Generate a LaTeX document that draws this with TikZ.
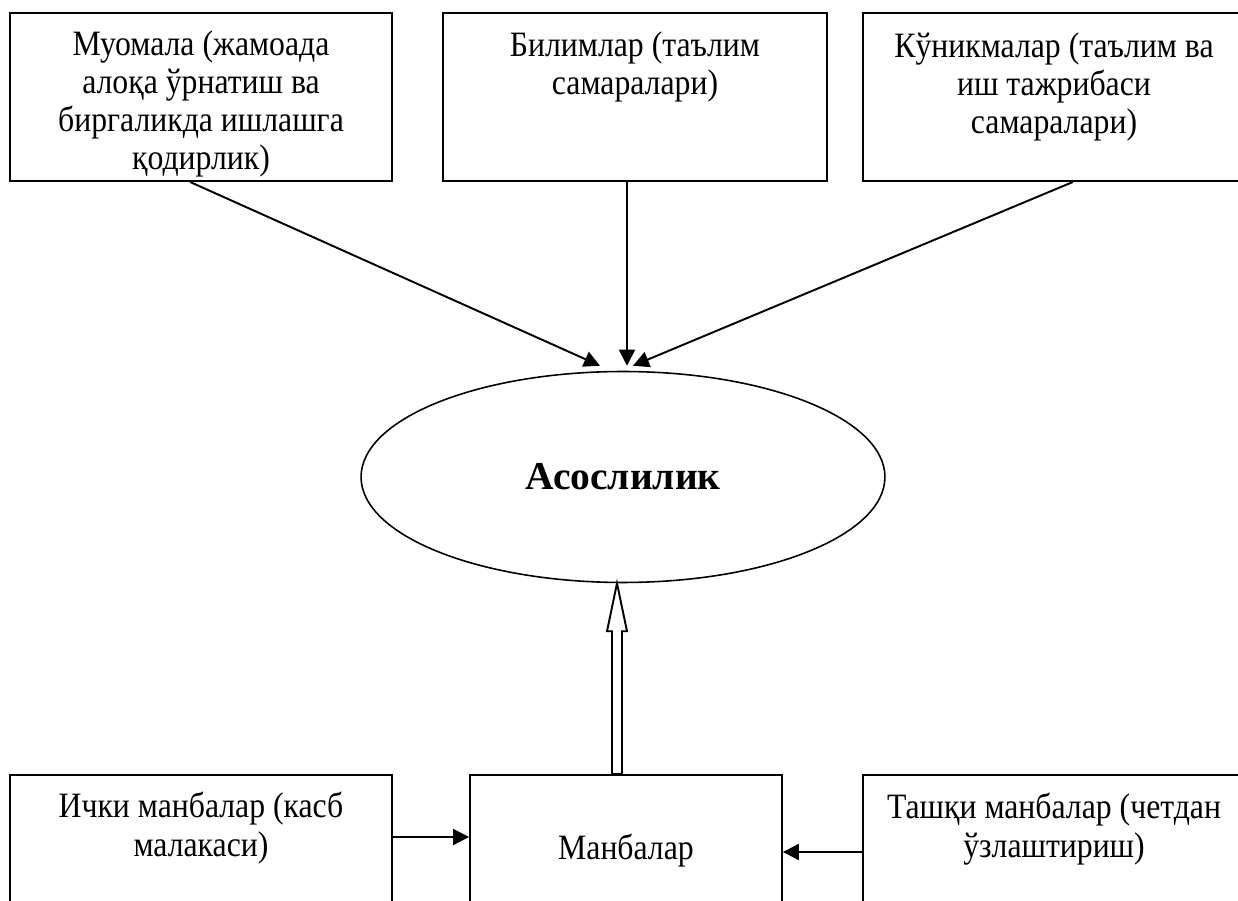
\documentclass[tikz,border=0pt]{standalone}
\usepackage{fontspec}
\setmainfont[FakeStretch=0.89]{Liberation Serif}
\newfontfamily\titlefont{Liberation Serif}
\usetikzlibrary{shapes.geometric,arrows.meta,calc}

\tikzset{
	box/.style={draw,line width=1.1pt,minimum height=3.36cm,inner sep=0pt},
	txt/.style={align=center,inner sep=0pt,font=\fontsize{20.3}{21.7}\selectfont},
	arr/.style={line width=1.1pt,-{Triangle[length=0.32cm,width=0.32cm]}},
	hollow/.style={line width=1.1pt,fill=white,line join=miter},
}

\begin{document}
\begin{tikzpicture}[x=0.02cm,y=-0.02cm]
	\useasboundingbox (0,0) rectangle (1238,901);
	\clip (0,0) rectangle (1238,901);
	
	\node[box,minimum width=7.64cm](b1) at (201,97){};
	\node[box,minimum width=7.68cm](b2) at (635,97){};
	\node[box,minimum width=7.64cm](b3) at (1054,97){};
	\node[txt,anchor=north,yshift=-0.36cm](t1) at (b1.north){Муомала (жамоада\\алоқа ўрнатиш ва\\биргаликда ишлашга\\қодирлик)};
	\node[txt,anchor=north,yshift=-0.38cm](t2) at (b2.north){Билимлар (таълим\\самаралари)};
	\node[txt,anchor=north,yshift=-0.4cm](t3) at (b3.north){Кўникмалар (таълим ва\\иш тажрибаси\\самаралари)};
	
	\node[draw,ellipse,line width=0.9pt,minimum width=10.48cm,minimum height=4.22cm,font=\titlefont\fontsize{22.5}{26}\selectfont\bfseries](asos) at (623,477){Асослилик};
	
	\node[box,minimum width=7.64cm](b4) at (201,859){};
	\node[box,minimum width=6.24cm](mb) at (626,859){};
	\node[box,minimum width=7.64cm](b6) at (1054,859){};
	\node[txt,anchor=north,yshift=-0.36cm](t4) at (b4.north){Ички манбалар (касб\\малакаси)};
	\node[txt,anchor=north,yshift=-1.2cm](t5) at (mb.north){Манбалар};
	\node[txt,anchor=north,yshift=-0.38cm](t6) at (b6.north){Ташқи манбалар (четдан\\ўзлаштириш)};
	
	\draw[arr]([xshift=-0.22cm]b1.south)--([xshift=-0.46cm,yshift=0.1cm]asos.north);
	\draw[arr]([xshift=-0.16cm]b2.south)--([xshift=0.08cm,yshift=0.1cm]asos.north);
	\draw[arr]([xshift=0.38cm]b3.south)--([xshift=0.2cm,yshift=0.1cm]asos.north);
	
	\coordinate(tip) at ($(asos.south)+(-6,0)$);
	\coordinate(bot) at (tip |- mb.north);
	\draw[hollow](tip)--++(10,48)--++(-5,0)--($(bot)+(5,0)$)--($(bot)+(-5,0)$)--($(tip)+(-5,48)$)--++(-5,0)--cycle;
	
	\draw[arr]([yshift=0.44cm]b4.east)--([yshift=0.44cm]mb.west);
	\draw[arr]([yshift=0.14cm]b6.west)--([yshift=0.14cm]mb.east);
\end{tikzpicture}
\end{document}
